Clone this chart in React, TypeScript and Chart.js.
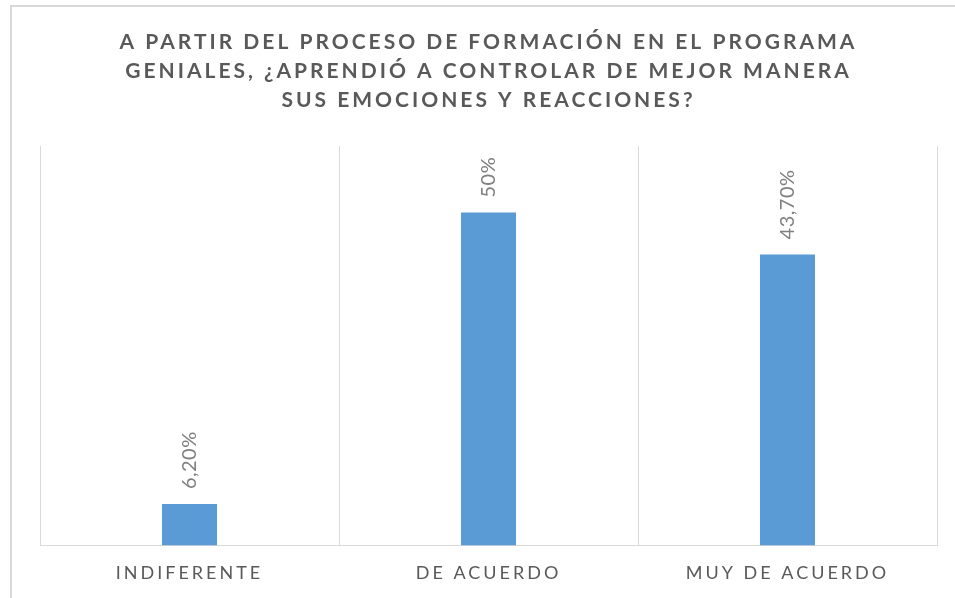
import React, { useEffect, useRef } from "react";
import { Chart, registerables } from "chart.js";

Chart.register(...registerables);

const categories = ["INDIFERENTE", "DE ACUERDO", "MUY DE ACUERDO"];
const values = [6.2, 50, 43.7];
const valueLabels = ["6,20%", "50%", "43,70%"];
const titleLines = [
  "A PARTIR DEL PROCESO DE FORMACIÓN EN EL PROGRAMA",
  "GENIALES, ¿APRENDIÓ A CONTROLAR DE MEJOR MANERA",
  "SUS EMOCIONES Y REACCIONES?",
];

const FONT = "Lato, 'Open Sans', sans-serif";

export default function App() {
  const ref = useRef<HTMLCanvasElement | null>(null);

  useEffect(() => {
    if (!ref.current) return;
    const labelPlugin = {
      id: "spacingAndLabels",
      beforeDraw(chart: any) {
        chart.ctx.letterSpacing = "3px";
      },
      afterDatasetsDraw(chart: any) {
        const ctx = chart.ctx;
        const meta = chart.getDatasetMeta(0);
        ctx.save();
        ctx.letterSpacing = "0.5px";
        ctx.fillStyle = "#7f7f7f";
        ctx.font = `20px ${FONT}`;
        ctx.textAlign = "left";
        ctx.textBaseline = "middle";
        meta.data.forEach((bar: any, i: number) => {
          ctx.save();
          ctx.translate(bar.x, bar.y - 15);
          ctx.rotate(-Math.PI / 2);
          ctx.fillText(valueLabels[i], 0, 0);
          ctx.restore();
        });
        ctx.restore();
        ctx.letterSpacing = "3.5px";
      },
      afterDraw(chart: any) {
        chart.ctx.letterSpacing = "0px";
      },
    };

    const chart = new Chart(ref.current, {
      type: "bar",
      data: {
        labels: categories,
        datasets: [
          {
            data: values,
            backgroundColor: "#5b9bd5",
            borderWidth: 0,
            categoryPercentage: 1,
            barPercentage: 0.184,
          },
        ],
      },
      options: {
        animation: false,
        responsive: false,
        maintainAspectRatio: false,
        layout: { padding: { left: 40, right: 18, top: 0, bottom: -3 } },
        plugins: {
          legend: { display: false },
          tooltip: { enabled: false },
          title: {
            display: true,
            text: titleLines,
            color: "#595959",
            font: { family: FONT, size: 21, weight: "bold", lineHeight: 1.38 },
            padding: { top: 28, bottom: 31 },
          },
        },
        scales: {
          x: {
            z: 1,
            grid: {
              display: true,
              color: "#d9d9d9",
              lineWidth: 1,
              drawTicks: false,
              offset: true,
            },
            border: { display: true, color: "#d9d9d9", width: 1 },
            ticks: {
              color: "#595959",
              font: { family: FONT, size: 18 },
              padding: 17,
              maxRotation: 0,
              autoSkip: false,
            },
          },
          y: {
            display: false,
            min: 0,
            max: 60,
          },
        },
      },
      plugins: [labelPlugin],
    });
    return () => chart.destroy();
  }, []);

  return (
    <div style={{ position: "fixed", left: 0, top: 0, width: 955, height: 598, background: "#fff" }}>
      <canvas ref={ref} width={955} height={598} style={{ position: "absolute", left: 0, top: 0 }} />
      <div
        style={{
          position: "absolute",
          left: 10,
          top: 5,
          width: 970,
          height: 620,
          border: "2px solid #d9d9d9",
          pointerEvents: "none",
        }}
      />
    </div>
  );
}
